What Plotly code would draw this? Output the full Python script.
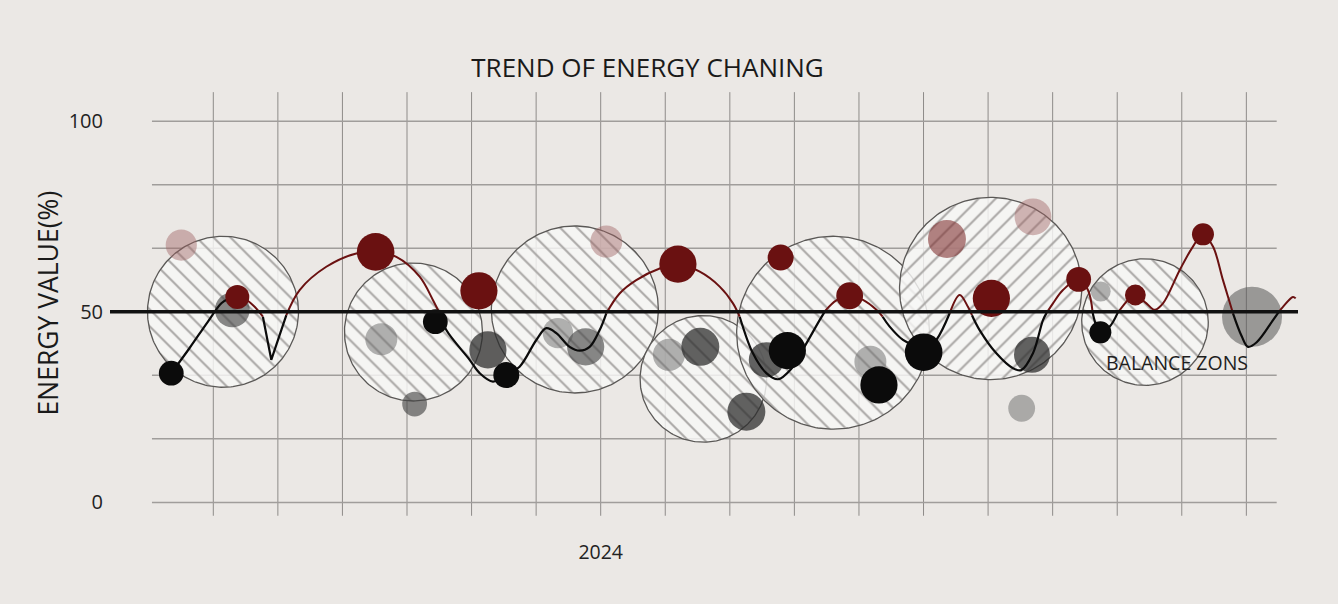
import numpy as np
import plotly.graph_objects as go

# ---------------- data ----------------
title_text = "TREND OF ENERGY CHANING"
y_title_text = "ENERGY VALUE(%)"
zone_label = "BALANCE ZONS"
x_tick_vals = [7]
x_tick_text = ["2024"]
y_tick_vals = [0, 50, 100]
y_tick_text = ["0", "50", "100"]
balance_level = 50
grid_x = list(range(1, 18))
grid_y = [0, 100 / 6, 200 / 6, 50, 400 / 6, 500 / 6, 100]

# balance zones (centre x, centre y, radius in % units)
zone_x = [1.15, 4.10, 6.60, 8.59, 10.60, 13.04, 15.43]
zone_y = [50.0, 44.7, 50.6, 32.4, 44.5, 56.1, 47.3]
zone_r = [19.8, 18.1, 21.9, 16.6, 25.3, 23.9, 16.6]

# solid markers
red_x = [1.372, 3.514, 5.114, 8.196, 9.787, 10.856, 13.051, 14.403, 15.281, 16.328]
red_y = [53.9, 65.7, 55.5, 62.5, 64.2, 54.2, 53.5, 58.5, 54.4, 70.3]
red_w = [6.0, 9.4, 9.3, 9.3, 6.5, 6.7, 9.3, 6.2, 5.2, 5.5]

black_x = [0.349, 4.439, 5.538, 9.891, 11.31, 12.002, 14.739]
black_y = [33.9, 47.4, 33.4, 39.8, 30.8, 39.4, 44.6]
black_w = [6.2, 6.2, 6.5, 9.3, 9.3, 9.4, 5.5]

# translucent bubbles
rose_x = [0.504, 7.087, 13.695]
rose_y = [67.5, 68.4, 74.9]
rose_w = [7.8, 8.0, 9.2]

rose_dark_x = [12.363]
rose_dark_y = [69.1]
rose_dark_w = [9.5]

dark_gray_x = [5.253, 8.543, 9.256, 9.566, 13.68]
dark_gray_y = [40.0, 40.8, 23.8, 37.4, 38.7]
dark_gray_w = [9.3, 9.5, 9.5, 8.8, 9.0]

mid_gray_x = [1.294, 4.118, 6.767]
mid_gray_y = [50.5, 25.8, 40.8]
mid_gray_w = [8.7, 6.2, 9.3]

big_gray_x = [17.088]
big_gray_y = [48.7]
big_gray_w = [15.0]

light_gray_x = [3.602, 6.338, 8.057, 11.177, 13.52, 14.744]
light_gray_y = [42.8, 44.4, 38.7, 36.9, 24.7, 55.3]
light_gray_w = [8.0, 7.6, 8.0, 8.0, 6.7, 5.0]

# trend line, red stretches (above balance) and black stretches (below)
red_path_x = [1.25, 1.372, 1.511, 1.64, 1.768, None,
              2.131, 2.337, 2.750, 3.215, 3.514, 3.835, 4.196, 4.401, 4.505, None,
              7.087, 7.293, 7.551, 7.923, 8.196, 8.534, 8.843, 9.049, 9.153, None,
              10.48, 10.65, 10.856, 11.062, 11.27, 11.367, None,
              12.405, 12.56, 12.688, 12.75, None,
              13.907, 14.005, 14.16, 14.403, 14.547, 14.62, None,
              15.007, 15.19, 15.281, 15.452, 15.58, 15.709, 15.967, 16.173, 16.328, 16.483, 16.638, 16.793, None,
              17.5, 17.567, 17.722, 17.764]
red_path_y = [53.5, 53.9, 53.1, 51.3, 48.7, None,
              49.1, 55.7, 61.8, 65.3, 65.7, 64.4, 59.2, 53.1, 49.6, None,
              49.6, 54.8, 58.3, 61.4, 62.5, 60.5, 56.6, 52.2, 48.7, None,
              50.3, 53.0, 54.2, 53.1, 50.5, 48.7, None,
              49.6, 54.4, 51.3, 49.1, None,
              49.7, 52.2, 55.7, 58.5, 55.7, 49.7, None,
              49.7, 53.5, 54.4, 52.2, 50.5, 52.2, 60.9, 67.1, 70.3, 67.1, 58.3, 49.6, None,
              49.9, 51.3, 53.9, 53.5]

black_path_x = [0.349, 0.633, 0.912, 1.129, 1.25, None,
                4.505, 4.609, 4.970, 5.125, 5.331, 5.538, 5.744, 6.003, 6.158, 6.313, 6.519, 6.674, 6.829, 6.984, 7.087, None,
                9.153, 9.358, 9.566, 9.745, 9.95, 10.128, 10.391, 10.48, None,
                11.367, 11.476, 11.682, 11.889, 12.002, 12.199, 12.405, None,
                12.75, 12.869, 13.128, 13.385, 13.515, 13.695, 13.85, 13.907, None,
                14.62, 14.739, 14.883, 15.007, None,
                16.793, 16.93, 17.025, 17.16, 17.413, 17.5]
black_path_y = [33.9, 40.5, 47.3, 52.3, 53.5, None,
                49.6, 45.2, 37.4, 33.9, 31.7, 33.4, 35.6, 42.6, 45.7, 44.4, 40.8, 39.8, 40.8, 45.2, 49.6, None,
                48.7, 39.1, 33.9, 32.3, 35.0, 40.0, 47.8, 50.3, None,
                48.7, 46.1, 42.6, 40.8, 39.4, 42.6, 49.6, None,
                49.1, 45.2, 39.1, 35.2, 34.7, 39.1, 47.8, 49.7, None,
                49.7, 44.6, 46.1, 49.7, None,
                49.6, 43.5, 40.8, 42.0, 47.8, 49.9]

# sharp dip of the black line
black_dip_x = [1.768, 1.898, 2.131]
black_dip_y = [48.7, 37.4, 49.1]

# ---------------- styling / layout ----------------
W, H = 1338, 604
M = dict(l=110, r=40, t=83, b=73)
X_RANGE = [-0.6, 17.8]
Y_RANGE = [-7.5, 110.0]
px_per_x = (W - M["l"] - M["r"]) / (X_RANGE[1] - X_RANGE[0])
px_per_y = (H - M["t"] - M["b"]) / (Y_RANGE[1] - Y_RANGE[0])
aspect = px_per_y / px_per_x
SIZE_PER_W = 4.0

BG = "#ebe8e5"
RED = "#6a1111"
BLACK = "#0b0b0b"
FONT = "Open Sans"
zone_hatch = ["\\", "\\", "\\", "\\", "\\", "/", "\\"]

fig = go.Figure()

theta = np.linspace(0, 2 * np.pi, 241)
for cx, cy, r, hatch in zip(zone_x, zone_y, zone_r, zone_hatch):
    fig.add_trace(go.Scatter(
        x=cx + r * aspect * np.cos(theta), y=cy + r * np.sin(theta),
        mode="lines", fill="toself",
        line=dict(color="#5a5856", width=1.3),
        fillcolor="rgba(248,247,246,0.82)",
        fillpattern=dict(shape=hatch, size=12, solidity=0.17,
                         fgcolor="#aaa8a6", bgcolor="rgba(248,247,246,0.82)",
                         fillmode="replace"),
        hoverinfo="skip", showlegend=False))


def bubbles(xs, ys, ws, color):
    fig.add_trace(go.Scatter(
        x=xs, y=ys, mode="markers",
        marker=dict(size=[w * SIZE_PER_W for w in ws], color=color,
                    opacity=1, line=dict(width=0)),
        hoverinfo="skip", showlegend=False, cliponaxis=False))


bubbles(rose_x, rose_y, rose_w, "rgba(160,100,100,0.45)")
bubbles(rose_dark_x, rose_dark_y, rose_dark_w, "rgba(125,45,45,0.58)")
bubbles(light_gray_x, light_gray_y, light_gray_w, "rgba(105,105,105,0.5)")
bubbles(big_gray_x, big_gray_y, big_gray_w, "rgba(85,85,85,0.55)")
bubbles(mid_gray_x, mid_gray_y, mid_gray_w, "rgba(70,70,70,0.64)")
bubbles(dark_gray_x, dark_gray_y, dark_gray_w, "rgba(45,45,45,0.74)")

fig.add_trace(go.Scatter(x=black_path_x, y=black_path_y, mode="lines",
                         line=dict(color=BLACK, width=2.2, shape="spline", smoothing=1.0),
                         connectgaps=False, hoverinfo="skip", showlegend=False))
fig.add_trace(go.Scatter(x=black_dip_x, y=black_dip_y, mode="lines",
                         line=dict(color=BLACK, width=2.2),
                         hoverinfo="skip", showlegend=False))
fig.add_trace(go.Scatter(x=red_path_x, y=red_path_y, mode="lines",
                         line=dict(color=RED, width=2.0, shape="spline", smoothing=1.0),
                         connectgaps=False, hoverinfo="skip", showlegend=False))

bubbles(red_x, red_y, red_w, RED)
bubbles(black_x, black_y, black_w, BLACK)

# grid
for gx in grid_x:
    fig.add_shape(type="line", x0=gx, x1=gx, y0=-3.5, y1=107.6,
                  line=dict(color="#8e8b89", width=1), layer="below")
for gy in grid_y:
    fig.add_shape(type="line", x0=0.05, x1=17.47, y0=gy, y1=gy,
                  line=dict(color="#a09d9b", width=1.5), layer="below")
fig.add_shape(type="line", xref="paper", x0=0, x1=1, y0=balance_level, y1=balance_level,
              line=dict(color="#111111", width=3.5), layer="above")

fig.add_annotation(text=zone_label, x=15.92, y=36.6, showarrow=False,
                   font=dict(family=FONT, size=19.5, color="#1e1e1e"))
fig.add_annotation(text=y_title_text, xref="paper", yref="paper",
                   x=(47 - M["l"]) / (W - M["l"] - M["r"]),
                   y=(H - M["b"] - 303.5) / (H - M["t"] - M["b"]),
                   textangle=-90, showarrow=False, xanchor="center", yanchor="middle",
                   font=dict(family=FONT, size=26.5, color="#1a1a1a"))

fig.update_layout(
    width=W, height=H, margin=M,
    paper_bgcolor=BG, plot_bgcolor=BG,
    title=dict(text=title_text, xref="container", yref="container",
               x=647.5 / W, y=1 - 68 / H, xanchor="center", yanchor="middle",
               font=dict(family=FONT, size=26, color="#1a1a1a")),
    font=dict(family=FONT, color="#222222"),
    xaxis=dict(range=X_RANGE, showgrid=False, zeroline=False, showline=False,
               ticks="", tickvals=x_tick_vals, ticktext=x_tick_text,
               tickfont=dict(size=19.5, color="#222"), ticklabelstandoff=7),
    yaxis=dict(range=Y_RANGE, showgrid=False, zeroline=False, showline=False,
               ticks="", tickvals=y_tick_vals, ticktext=y_tick_text,
               tickfont=dict(size=20, color="#222"), ticklabelstandoff=6),
    showlegend=False,
)

fig.write_html("out.html", config={"displayModeBar": False},
               post_script="document.body.style.margin='0';document.body.style.overflow='hidden';")
